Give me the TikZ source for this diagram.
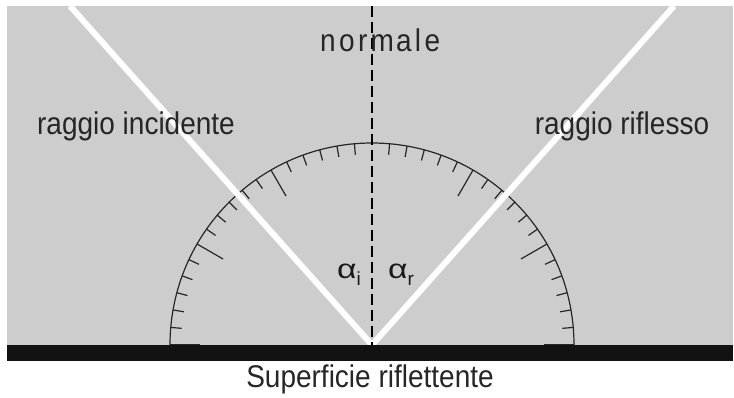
\documentclass[tikz,border=0pt]{standalone}
\usepackage{fontspec}
\setmainfont{Liberation Sans}
\usepackage{xcolor}
\usetikzlibrary{positioning}

\definecolor{bggray}{RGB}{205,205,205}
\definecolor{bardark}{RGB}{18,18,18}

\newcommand{\tallt}[1]{\scalebox{1}[1.12]{#1}}
\newcommand{\angsym}[1]{\scalebox{1.25}[1]{α}\raisebox{-7pt}{\fontsize{19}{19}\selectfont #1}}

\begin{document}
\begin{tikzpicture}[x=1pt, y=1pt,
    lbl/.style={font=\fontsize{28}{30}\selectfont, text=black!85, inner sep=0pt},
    anglbl/.style={font=\fontsize{27}{28}\selectfont, text=black!90, inner sep=0pt},
    ray/.style={white, line width=6pt},
    scaletick/.style={black!85, line width=1.2pt},
    normalline/.style={black, line width=1.3pt, dash pattern=on 11pt off 5pt}]
    \useasboundingbox (0,0) rectangle (734,397);

    % Background
    \fill[bggray] (7,52) rectangle (733,391);

    % Protractor
    \coordinate (O) at (372,52);
    \draw[scaletick] (170,52) arc[start angle=180, end angle=0, radius=202];
    \foreach \a in {-90,-85,...,90}{
        \ifnum\a=0\else
        \pgfmathsetmacro{\ticklen}{mod(\a,30)==0 ? 30 : 11}
        \draw[scaletick] (O) ++(90-\a:202) -- ++(270-\a:\ticklen);
        \fi
    }

    % Rays
    \begin{scope}
        \clip (7,52) rectangle (733,391);
        \coordinate (inc) at (70,391);
        \coordinate (rif) at (674,391);
        \draw[ray] (inc) -- (O);
        \draw[ray] (O) -- (rif);
    \end{scope}

    % Normal
    \coordinate (ntop) at (372,391);
    \draw[normalline] (ntop) -- (O);

    % Surface
    \fill[bardark] (7,36) rectangle (733,52);

    % Labels
    \node[lbl, anchor=base west] (normale) at (320,345)
        {\tallt{\addfontfeature{LetterSpace=12}norm\kern2pt ale}};
    \node[lbl, anchor=base] (incidente) at (136,262) {\tallt{raggio incidente}};
    \node[lbl, anchor=base] (riflesso) at (622,262) {\tallt{raggio riflesso}};
    \node[lbl, anchor=base] (superficie) at (370,10) {\tallt{Superficie riflettente}};
    \node[anglbl, anchor=base west] (ai) at (337,119) {\angsym{i}};
    \node[anglbl, anchor=base west] (ar) at (388,119) {\angsym{r}};
\end{tikzpicture}
\end{document}
